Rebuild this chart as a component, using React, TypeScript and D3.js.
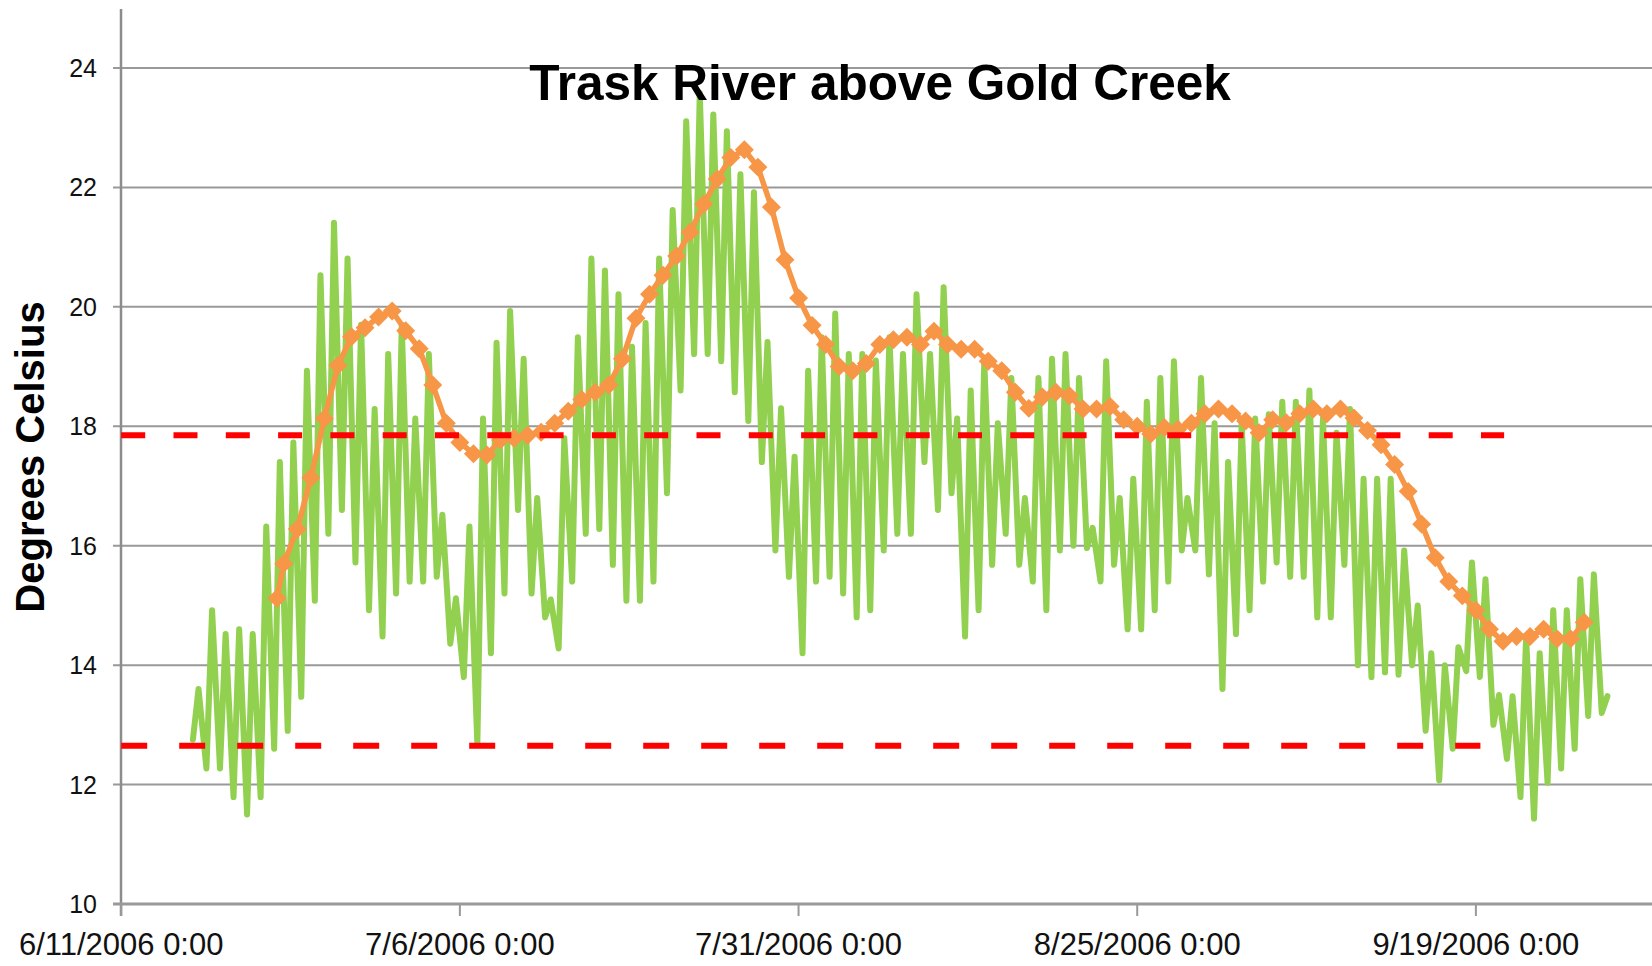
import React, { useEffect, useRef } from 'react';
import * as d3 from 'd3';

const WIDTH = 1652;
const HEIGHT = 966;

// hourly logger, summarised as the daily low (~7:00) and high (~17:00), 6/16 .. 9/27
const firstDay = '2006-06-16';
const dailyLow = [
  12.75, 12.27, 12.27, 11.79, 11.5, 11.79, 12.6, 12.9, 13.47, 15.08,
  16.2, 16.6, 15.72, 14.92, 14.48, 15.2, 15.4, 15.4, 15.48, 14.36,
  13.8, 12.67, 14.2, 15.2, 16.6, 15.2, 14.8, 14.28, 15.4, 16.2,
  16.28, 15.68, 15.08, 15.08, 15.4, 16.88, 18.6, 19.21, 19.21, 19.09,
  18.57, 18.09, 17.4, 15.92, 15.48, 14.2, 15.4, 15.48, 15.2, 14.8,
  14.92, 15.92, 16.2, 16.2, 17.4, 16.6, 16.88, 14.48, 14.92, 15.68,
  16.2, 15.68, 15.4, 14.92, 15.92, 16.0, 15.96, 15.4, 15.68, 14.6,
  14.6, 14.92, 15.4, 15.92, 15.92, 15.52, 13.6, 14.52, 14.92, 15.4,
  15.72, 15.48, 15.48, 14.8, 14.8, 15.68, 14.0, 13.8, 13.88, 13.84,
  14.0, 12.9, 12.07, 12.6, 13.9, 13.8, 13.0, 12.43, 11.79, 11.43,
  12.03, 12.27, 12.6, 13.15, 13.2,
];
const dailyHigh = [
  13.6, 14.92, 14.52, 14.6, 14.52, 16.32, 17.4, 17.73, 18.93, 20.53,
  21.41, 20.81, 19.7, 18.29, 19.21, 19.7, 18.13, 19.21, 16.52, 15.12,
  16.32, 18.13, 19.4, 19.93, 19.13, 16.8, 15.1, 17.8, 19.49, 20.81,
  20.61, 20.21, 19.33, 19.73, 20.81, 21.62, 23.11, 23.58, 23.22, 22.94,
  22.22, 21.92, 19.41, 18.3, 17.49, 18.93, 19.49, 19.89, 19.21, 19.21,
  19.1, 19.49, 19.21, 20.21, 19.21, 20.33, 18.13, 18.6, 19.09, 18.05,
  18.81, 16.8, 18.81, 19.13, 19.21, 18.81, 16.3, 19.09, 16.8, 17.12,
  18.41, 18.81, 19.09, 16.8, 18.81, 18.05, 17.4, 18.05, 18.13, 18.2,
  18.41, 18.41, 18.6, 18.13, 17.89, 18.29, 17.12, 17.12, 17.12, 15.92,
  15.0, 14.2, 14.0, 14.3, 15.72, 15.44, 13.5, 13.48, 14.48, 14.2,
  14.92, 14.92, 15.44, 15.52, 13.48,
];

// 7-day average: first point 6/22 12:00, then daily from 6/23
const avgFirst = '2006-06-22T12:00';
const avgDailyFrom = '2006-06-22';
const weeklyAvg = [
  15.12, 15.7, 16.28, 17.14, 18.13, 19.02, 19.5, 19.65, 19.83, 19.93,
  19.6, 19.3, 18.69, 18.05, 17.73, 17.54, 17.52, 17.77, 17.8, 17.85,
  17.9, 18.05, 18.25, 18.45, 18.57, 18.69, 19.13, 19.81, 20.21, 20.53,
  20.85, 21.25, 21.72, 22.14, 22.5, 22.63, 22.34, 21.67, 20.79, 20.15,
  19.69, 19.37, 19.0, 18.93, 19.05, 19.37, 19.45, 19.49, 19.37, 19.59,
  19.37, 19.29, 19.29, 19.09, 18.93, 18.57, 18.3, 18.49, 18.57, 18.51,
  18.29, 18.29, 18.33, 18.11, 18.0, 17.87, 17.98, 17.95, 18.05, 18.21,
  18.29, 18.21, 18.09, 17.89, 18.11, 18.06, 18.21, 18.29, 18.21, 18.29,
  18.14, 17.93, 17.69, 17.36, 16.91, 16.36, 15.8, 15.4, 15.16, 14.92,
  14.6, 14.4, 14.48, 14.48, 14.6, 14.44, 14.44, 14.72,
];

// criteria lines
const thresholdValues = [17.85, 12.65];
const thresholdEnds = ['2006-09-21T02:00', '2006-09-19T08:00'];
const thresholdDash = ['24 28.3', '26 32'];

const xTicks = ['2006-06-11', '2006-07-06', '2006-07-31', '2006-08-25', '2006-09-19'];
const yTicks = [10, 12, 14, 16, 18, 20, 22, 24];

const parse = d3.timeParse('%Y-%m-%d');
const parseT = d3.timeParse('%Y-%m-%dT%H:%M');
const fmt = d3.timeFormat('%-m/%-d/%Y %-H:%M');

const App: React.FC = () => {
  const svgRef = useRef<SVGSVGElement>(null);

  useEffect(() => {
    if (!svgRef.current) return;
    const svg = d3.select(svgRef.current);
    svg.selectAll('*').remove();

    const x = d3.scaleTime()
      .domain([parse('2006-06-11')!, parse('2006-10-02')!])
      .range([121.2, 1652]);
    const y = d3.scaleLinear().domain([10, 24]).range([904, 68]);

    const font = '"Liberation Sans", Arial, sans-serif';

    // gridlines
    svg.append('g')
      .selectAll('line')
      .data(yTicks.filter(t => t > 10))
      .enter()
      .append('line')
      .attr('x1', 113)
      .attr('x2', WIDTH)
      .attr('y1', d => y(d))
      .attr('y2', d => y(d))
      .style('stroke', '#999')
      .style('stroke-width', 2);

    // left axis
    svg.append('line')
      .attr('x1', 121).attr('x2', 121)
      .attr('y1', 9).attr('y2', 916)
      .style('stroke', '#8c8c8c')
      .style('stroke-width', 2.5);

    // bottom axis
    svg.append('line')
      .attr('x1', 113).attr('x2', WIDTH)
      .attr('y1', y(10)).attr('y2', y(10))
      .style('stroke', '#999')
      .style('stroke-width', 3);

    svg.append('g')
      .selectAll('line')
      .data(xTicks)
      .enter()
      .append('line')
      .attr('x1', d => x(parse(d)!))
      .attr('x2', d => x(parse(d)!))
      .attr('y1', y(10))
      .attr('y2', y(10) + 12)
      .style('stroke', '#999')
      .style('stroke-width', 2);

    svg.append('g')
      .selectAll('text')
      .data(yTicks)
      .enter()
      .append('text')
      .attr('x', 97)
      .attr('y', d => y(d) + 9)
      .attr('text-anchor', 'end')
      .style('font-family', font)
      .style('font-size', '25px')
      .style('fill', '#111')
      .text(d => d);

    svg.append('g')
      .selectAll('text')
      .data(xTicks)
      .enter()
      .append('text')
      .attr('x', d => x(parse(d)!))
      .attr('y', 955)
      .attr('text-anchor', 'middle')
      .style('font-family', font)
      .style('font-size', '31px')
      .style('fill', '#111')
      .text(d => fmt(parse(d)!));

    // green hourly series
    const start = parse(firstDay)!;
    const green: [Date, number][] = [];
    dailyLow.forEach((lo, i) => {
      green.push([d3.timeHour.offset(start, i * 24 + 7), lo]);
      green.push([d3.timeHour.offset(start, i * 24 + 17), dailyHigh[i]]);
    });
    const line = d3.line<[Date, number]>()
      .x(d => x(d[0]))
      .y(d => y(d[1]));

    svg.append('path')
      .datum(green)
      .attr('d', line)
      .style('fill', 'none')
      .style('stroke', '#92D050')
      .style('stroke-width', 6)
      .style('stroke-linejoin', 'round')
      .style('stroke-linecap', 'round');

    // orange 7-day average
    const avgStart = parse(avgDailyFrom)!;
    const avg: [Date, number][] = weeklyAvg.map((v, i) => [
      i === 0 ? parseT(avgFirst)! : d3.timeDay.offset(avgStart, i),
      v,
    ]);
    svg.append('path')
      .datum(avg)
      .attr('d', line)
      .style('fill', 'none')
      .style('stroke', '#F79646')
      .style('stroke-width', 5.5)
      .style('stroke-linejoin', 'round');

    const diamond = d3.symbol(d3.symbolSquare, 180);
    svg.append('g')
      .selectAll('path')
      .data(avg)
      .enter()
      .append('path')
      .attr('d', diamond)
      .attr('transform', d => `translate(${x(d[0])},${y(d[1])}) rotate(45)`)
      .style('fill', '#F79646');

    // red dashed criteria
    thresholdValues.forEach((v, i) => {
      svg.append('line')
        .attr('x1', x(parse('2006-06-11')!))
        .attr('x2', x(parseT(thresholdEnds[i])!))
        .attr('y1', y(v))
        .attr('y2', y(v))
        .style('stroke', '#FF0000')
        .style('stroke-width', 6)
        .style('stroke-dasharray', thresholdDash[i]);
    });

    // title and axis label
    svg.append('text')
      .attr('x', 880)
      .attr('y', 100)
      .attr('text-anchor', 'middle')
      .style('font-family', font)
      .style('font-weight', 'bold')
      .style('font-size', '49.5px')
      .style('fill', '#000')
      .text('Trask River above Gold Creek');

    svg.append('text')
      .attr('transform', 'translate(44,457) rotate(-90)')
      .attr('text-anchor', 'middle')
      .style('font-family', font)
      .style('font-weight', 'bold')
      .style('font-size', '40px')
      .style('fill', '#000')
      .text('Degrees Celsius');
  }, []);

  return (
    <svg
      ref={svgRef}
      width={WIDTH}
      height={HEIGHT}
      style={{ position: 'absolute', left: 0, top: 0, background: '#fff' }}
    />
  );
};

export default App;
